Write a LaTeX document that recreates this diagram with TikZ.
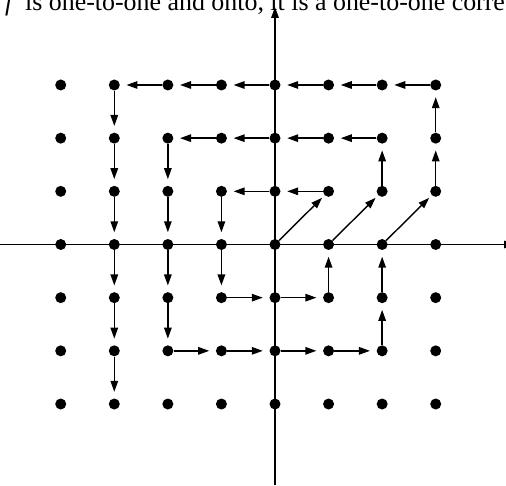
\documentclass[tikz,border=0pt]{standalone}
\usepackage{fontspec}
\setmainfont{Liberation Serif}
\usetikzlibrary{arrows.meta}
\begin{document}
\begin{tikzpicture}[x=1pt,y=1pt,
  dot/.style={circle,fill=black,inner sep=0pt,minimum size=11pt},
  arr/.style={line width=1.4pt,-{Triangle[length=11pt,width=7.5pt]},shorten >=6.5pt},
  diag/.style={arr,shorten >=3.5pt},
  axisline/.style={line width=1.6pt,-{Triangle[length=11pt,width=7.5pt]}},
  txt/.style={font=\fontsize{25.9}{30}\selectfont,inner sep=0pt,anchor=base west}]
\useasboundingbox (0,0) rectangle (506,485);
\node[txt] (tf) at (5,474) {\itshape f};
\node[txt] (tx) at (25,474) {is one-to-one and onto, it is a one-to-one corre};
\coordinate (xl) at (0,240.5);
\coordinate (xr) at (515,240.5);
\coordinate (yb) at (275,0);
\coordinate (yt) at (275,478);
\draw[axisline] (xl) -- (xr);
\draw[axisline] (yb) -- (yt);
\foreach \c in {0,...,7}
  \foreach \r in {0,...,6}
    \node[dot] (n\c\r) at ({275+(\c-4)*53.57},{240.5+(\r-3)*53.17}) {};
\foreach \a/\b in {76/66,66/56,56/46,46/36,36/26,26/16,
                   16/15,15/14,14/13,13/12,12/11,11/10,
                   74/75,75/76,
                   65/55,55/45,45/35,35/25,
                   25/24,24/23,23/22,22/21,
                   21/31,31/41,41/51,51/61,
                   61/62,62/63,64/65,
                   54/44,44/34,34/33,33/32,32/42,42/52,52/53}
  \draw[arr] (n\a) -- (n\b);
\foreach \a/\b in {43/54,53/64,63/74}
  \draw[diag] (n\a) -- (n\b);
\end{tikzpicture}
\end{document}
